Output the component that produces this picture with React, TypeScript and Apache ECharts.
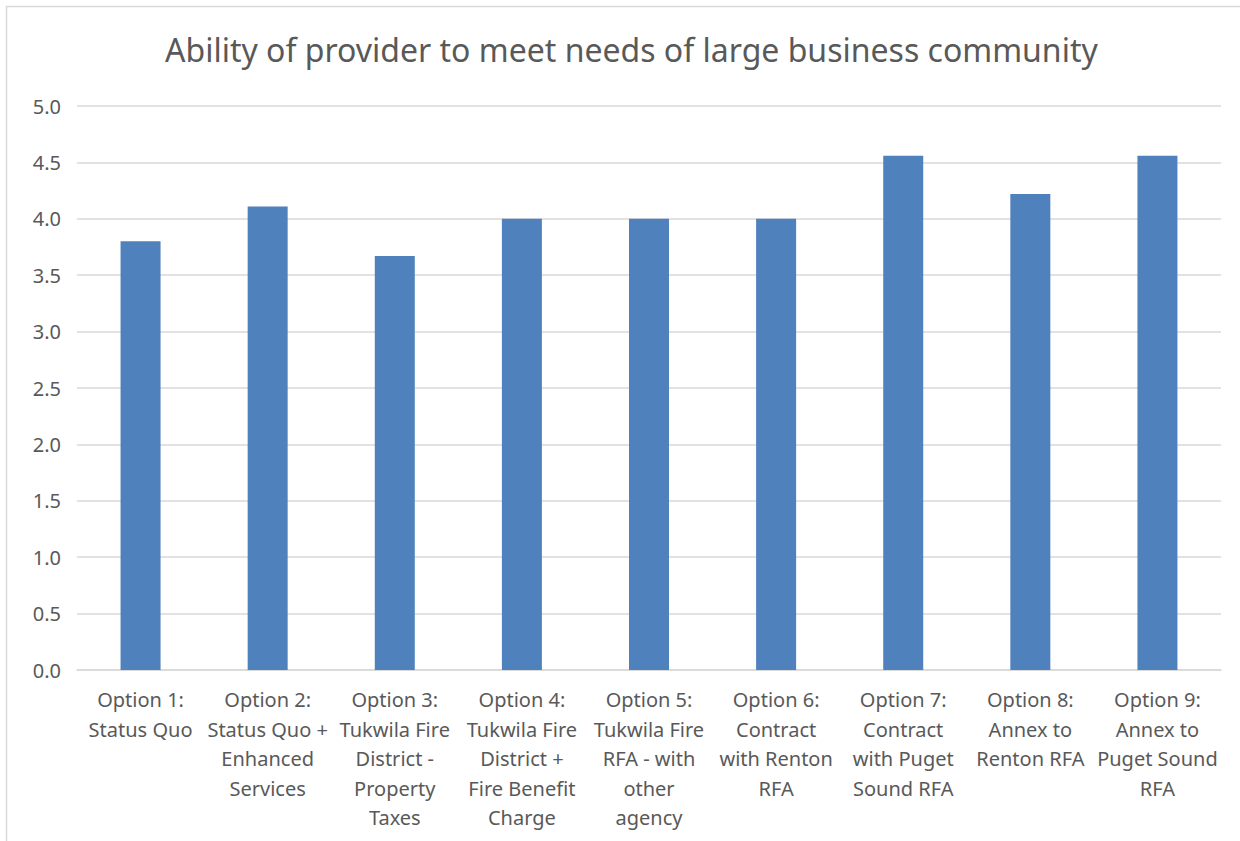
import React, { useEffect, useRef } from "react";
import * as echarts from "echarts";

const titleText = "Ability of provider to meet needs of large business community";
const categories = [
  "Option 1:\nStatus Quo",
  "Option 2:\nStatus Quo +\nEnhanced\nServices",
  "Option 3:\nTukwila Fire\nDistrict -\nProperty\nTaxes",
  "Option 4:\nTukwila Fire\nDistrict +\nFire Benefit\nCharge",
  "Option 5:\nTukwila Fire\nRFA - with\nother\nagency",
  "Option 6:\nContract\nwith Renton\nRFA",
  "Option 7:\nContract\nwith Puget\nSound RFA",
  "Option 8:\nAnnex to\nRenton RFA",
  "Option 9:\nAnnex to\nPuget Sound\nRFA",
];
const values = [3.8, 4.11, 3.67, 4.0, 4.0, 4.0, 4.56, 4.22, 4.56];
const yMin = 0;
const yMax = 5;
const yStep = 0.5;

const FONT = "'Noto Sans', 'Open Sans', sans-serif";
const TEXT = "#595959";

export default function App() {
  const ref = useRef<HTMLDivElement>(null);
  useEffect(() => {
    if (!ref.current) return;
    const chart = echarts.init(ref.current, null, { renderer: "svg" });
    chart.setOption({
      animation: false,
      backgroundColor: "#ffffff",
      title: {
        text: titleText,
        left: 160,
        top: 28,
        textStyle: { fontFamily: FONT, fontSize: 32, fontWeight: "normal", color: TEXT },
      },
      graphic: [
        {
          type: "rect",
          shape: { x: 6.5, y: 6.5, width: 1260, height: 860 },
          style: { fill: "none", stroke: "#d9d9d9", lineWidth: 1.5 },
          silent: true,
        },
      ],
      grid: { left: 77, right: 19, top: 106, bottom: 171, containLabel: false },
      xAxis: {
        type: "category",
        data: categories,
        axisLine: { lineStyle: { color: "#d9d9d9", width: 1.5 } },
        axisTick: { show: false },
        axisLabel: {
          interval: 0,
          margin: 15,
          color: TEXT,
          fontFamily: FONT,
          fontSize: 20,
          lineHeight: 29.5,
        },
      },
      yAxis: {
        type: "value",
        min: yMin,
        max: yMax,
        interval: yStep,
        axisLine: { show: false },
        axisTick: { show: false },
        splitLine: { lineStyle: { color: "#d9d9d9", width: 1.5 } },
        axisLabel: {
          margin: 16,
          color: TEXT,
          fontFamily: FONT,
          fontSize: 20,
          formatter: (v: number) => v.toFixed(1),
        },
      },
      series: [
        {
          type: "bar",
          data: values,
          barWidth: 40,
          itemStyle: { color: "#4f81bd" },
        },
      ],
    });
    return () => chart.dispose();
  }, []);
  return (
    <div
      ref={ref}
      style={{ position: "fixed", left: 0, top: 0, width: 1240, height: 841 }}
    />
  );
}
